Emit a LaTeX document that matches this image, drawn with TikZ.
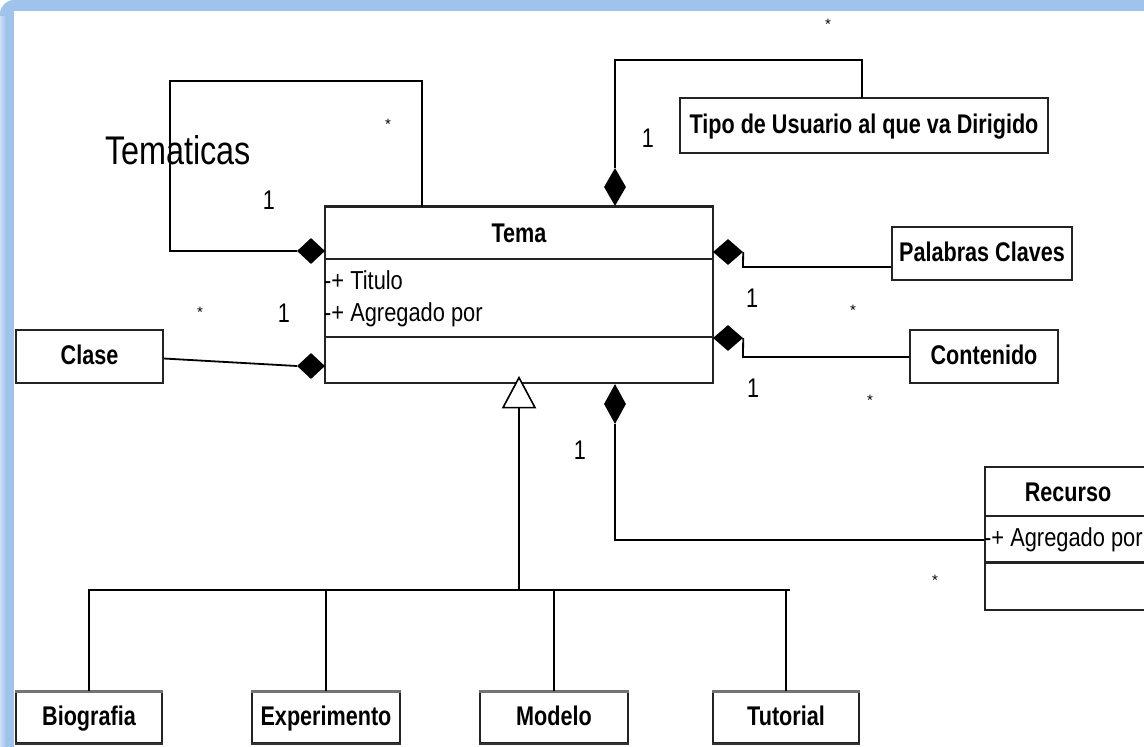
\documentclass[tikz,border=0pt]{standalone}
\usepackage{fontspec}
\usepackage{graphicx}
\setmainfont{Liberation Sans}
\usetikzlibrary{shapes.geometric}
\definecolor{frameblue}{RGB}{160,195,236}
\definecolor{framelight}{RGB}{205,222,246}
\definecolor{boxline}{RGB}{35,35,35}
\newcommand{\cz}[1]{\scalebox{0.8}[1]{#1}}
\newcommand{\ca}[1]{\scalebox{0.84}[1]{#1}}
\tikzset{
  umlbox/.style={draw=boxline, line width=1.6pt, fill=white, inner sep=0pt,
    text height=20pt, text depth=5pt,
    font=\bfseries\fontsize{27}{27}\selectfont},
  titletext/.style={inner sep=0pt, font=\bfseries\fontsize{27}{27}\selectfont},
  attrtext/.style={inner sep=0pt, anchor=west, font=\fontsize{26}{26}\selectfont},
  conn/.style={draw=black, line width=1.8pt},
  comp/.style={diamond, fill=black, draw=none, inner sep=0pt},
  mult/.style={inner sep=0pt, font=\fontsize{27}{27}\selectfont},
  star/.style={inner sep=0pt, font=\fontsize{15}{15}\selectfont},
  gen/.style={isosceles triangle, isosceles triangle stretches, shape border rotate=90,
    draw=black, fill=white, line width=1.6pt, inner sep=0pt, minimum width=32pt, minimum height=30pt}
}
\begin{document}
\begin{tikzpicture}[x=1pt,y=-1pt]
\useasboundingbox (0,0) rectangle (1144,747);
% frame
\fill[white] (0,0) rectangle (1144,747);
\fill[frameblue, rounded corners=14pt] (0,760) -- (0,0) -- (1160,0) -- (1160,11) -- (14,11) -- (14,760) -- cycle;
\shade[left color=framelight, right color=frameblue] (0,16) rectangle (6,747);
\fill[white] (14,11) rectangle (1144,747);

% Tema class
\node[umlbox, minimum width=388pt, minimum height=176pt] (tema) at (519,295) {};
\draw[boxline, line width=3pt] (tema.north west) -- (tema.north east);
\draw[boxline, line width=1.8pt] ([yshift=-53pt]tema.north west) -- ([yshift=-53pt]tema.north east);
\draw[boxline, line width=1.8pt] ([yshift=-131pt]tema.north west) -- ([yshift=-131pt]tema.north east);
\node[titletext] (tematitle) at (519,233) {\cz{Tema}};
\node[attrtext] (attr1) at (324,280) {\ca{-+ Titulo}};
\node[attrtext] (attr2) at (324,315) {\ca{-+ Agregado por}};

% other classes
\node[umlbox, minimum width=368pt, minimum height=55pt] (tipo) at (864,125.5) {\cz{Tipo de Usuario al que va Dirigido}};
\node[umlbox, minimum width=180pt, minimum height=53pt] (palabras) at (982,253.5) {\cz{Palabras Claves}};
\node[umlbox, minimum width=148pt, minimum height=53pt] (contenido) at (984,356.5) {\cz{Contenido}};
\node[umlbox, minimum width=147pt, minimum height=53pt] (clase) at (89.5,356.5) {\cz{Clase}};

% Recurso class (cut at the right edge)
\node[umlbox, minimum width=175pt, minimum height=143pt] (recurso) at (1072.5,538.5) {};
\draw[boxline, line width=1.8pt] ([yshift=-50pt]recurso.north west) -- ([yshift=-50pt]recurso.north east);
\draw[boxline, line width=3pt] ([yshift=-96pt]recurso.north west) -- ([yshift=-96pt]recurso.north east);
\node[titletext] (recursotitle) at (1068,492) {\cz{Recurso}};
\node[attrtext] (attr3) at (984,540) {\ca{-+ Agregado por}};

% subclasses
\node[umlbox, minimum width=146pt, minimum height=51pt] (bio) at (89,717.5) {\cz{Biografia}};
\node[umlbox, minimum width=148pt, minimum height=51pt] (exp) at (326,717.5) {\cz{Experimento}};
\node[umlbox, minimum width=148pt, minimum height=51pt] (mod) at (554,717.5) {\cz{Modelo}};
\node[umlbox, minimum width=146pt, minimum height=51pt] (tut) at (786,717.5) {\cz{Tutorial}};
\foreach \b in {bio,exp,mod,tut}{
  \draw[black!55, line width=3pt] (\b.north west) -- (\b.north east);
  \draw[black!80, line width=2.6pt] (\b.south west) -- (\b.south east);
}

% composition diamonds
\node[comp, minimum width=28pt, minimum height=26pt] (d1) at (311,251) {};
\node[comp, minimum width=22pt, minimum height=38pt] (d2) at (615,187) {};
\node[comp, minimum width=30pt, minimum height=26pt] (d3) at (728,252) {};
\node[comp, minimum width=30pt, minimum height=26pt] (d4) at (728,338) {};
\node[comp, minimum width=28pt, minimum height=26pt] (d5) at (311,366) {};
\node[comp, minimum width=22pt, minimum height=40pt] (d6) at (615,404) {};

% connectors
\coordinate (t1) at (170,81);
\coordinate (t2) at (422,207);
\draw[conn] (d1.west) -| (t1) -| (t2);
\coordinate (u1) at (615,60);
\coordinate (u2) at (862,98);
\draw[conn] (d2.north) |- (u1) -| (u2);
\coordinate (p1) at (743,267);
\draw[conn] (d3.east) -- (p1) -- (p1 -| palabras.west);
\coordinate (c1) at (743,357);
\draw[conn] (d4.east) -- (c1) -- (c1 -| contenido.west);
\draw[conn] ([yshift=-2pt]clase.east) -- (d5.west);
\coordinate (r1) at (615,540);
\draw[conn] (d6.south) -- (r1) -- (r1 -| recurso.west);

% generalization
\node[gen] (tri) at (519,398) {};
\coordinate (bar) at (519,590);
\draw[conn] (tri.lower side) -- (bar);
\draw[conn] (bio.north) |- ([xshift=4pt]tut.north |- bar);
\draw[conn] (tut.north) -- (tut.north |- bar);
\draw[conn] (exp.north) -- (exp.north |- bar);
\draw[conn] (mod.north) -- (mod.north |- bar);

% labels
\node[inner sep=0pt, font=\fontsize{40}{40}\selectfont] (tematicas) at (178,150) {\scalebox{0.81}[1]{Tematicas}};
\node[star] (s1) at (388,124) {*};
\node[mult] (m1) at (269,200) {\cz{1}};
\node[star] (s2) at (828,24) {*};
\node[mult] (m2) at (648,138) {\cz{1}};
\node[mult] (m3) at (752,298) {\cz{1}};
\node[star] (s3) at (853,310) {*};
\node[mult] (m4) at (753,388) {\cz{1}};
\node[star] (s4) at (870,400) {*};
\node[star] (s5) at (200,312) {*};
\node[mult] (m5) at (284,313) {\cz{1}};
\node[mult] (m6) at (580,450) {\cz{1}};
\node[star] (s6) at (935,580) {*};
\end{tikzpicture}
\end{document}
